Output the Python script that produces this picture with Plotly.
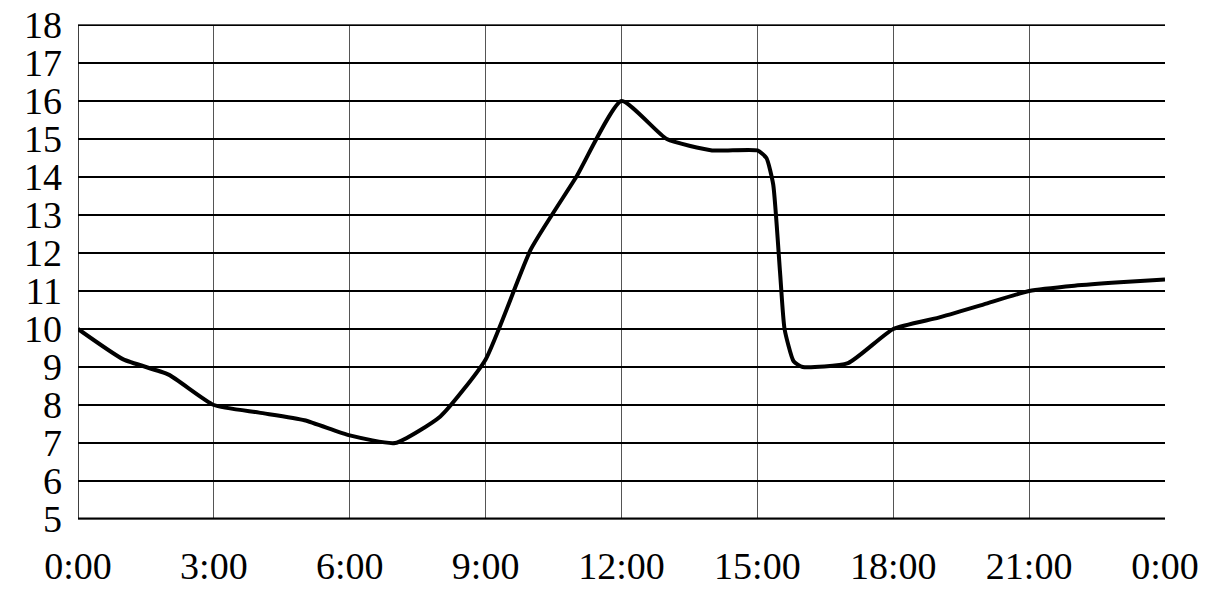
import plotly.graph_objects as go

# hours since midnight and temperature readings
hours = [0, 1, 2, 3, 4, 5, 6, 7, 8, 9, 10, 11, 12, 13, 14, 15,
         15.2, 15.35, 15.5, 15.6, 15.8, 16, 17, 18, 19, 20, 21, 22, 23, 24]
temps = [10, 9.2, 8.8, 8.0, 7.8, 7.6, 7.2, 7.0, 7.7, 9.2, 12.1, 14.0, 16.0, 15.0, 14.7, 14.7,
         14.5, 13.8, 11.5, 10.0, 9.15, 9.0, 9.1, 10.0, 10.3, 10.65, 11.0, 11.14, 11.23, 11.3]

x_tick_vals = [0, 3, 6, 9, 12, 15, 18, 21, 24]
x_tick_text = ["0:00", "3:00", "6:00", "9:00", "12:00", "15:00", "18:00", "21:00", "0:00"]
y_tick_vals = list(range(5, 19))

font_family = "Liberation Serif, Times New Roman, serif"

fig = go.Figure()
fig.add_trace(go.Scatter(
    x=hours, y=temps, mode="lines",
    line=dict(color="black", width=4, shape="spline", smoothing=0.5),
    hoverinfo="skip", showlegend=False,
))

fig.update_layout(
    template="none",
    width=1216, height=601,
    margin=dict(l=78, r=51, t=25, b=82, autoexpand=False),
    paper_bgcolor="white", plot_bgcolor="white",
    font=dict(family=font_family, size=38, color="black"),
    hovermode=False,
    xaxis=dict(
        range=[0, 24], tickvals=x_tick_vals, ticktext=x_tick_text,
        showgrid=True, gridcolor="#555555", gridwidth=1,
        zeroline=False, showline=True, linecolor="#555555", linewidth=1, mirror=True,
        ticks="", ticklabelstandoff=13, automargin=False,
        tickfont=dict(family=font_family, size=38, color="black"),
    ),
    yaxis=dict(
        range=[5, 18], tickvals=y_tick_vals,
        showgrid=True, gridcolor="black", gridwidth=1.6,
        zeroline=False, showline=False,
        ticks="", ticklabelstandoff=15, automargin=False,
        tickfont=dict(family=font_family, size=38, color="black"),
    ),
)

# thicker top and bottom borders, dark left border
fig.add_shape(type="line", xref="paper", yref="y", x0=0, x1=1, y0=18, y1=18,
              line=dict(color="black", width=2.2))
fig.add_shape(type="line", xref="paper", yref="y", x0=0, x1=1, y0=5, y1=5,
              line=dict(color="black", width=2.8))
fig.add_shape(type="line", xref="x", yref="paper", x0=0, x1=0, y0=0, y1=1,
              line=dict(color="black", width=1.5))

fig.write_html(
    "out.html",
    config={"displayModeBar": False, "staticPlot": True},
    post_script="document.body.style.margin='0';document.body.style.overflow='hidden';",
)
